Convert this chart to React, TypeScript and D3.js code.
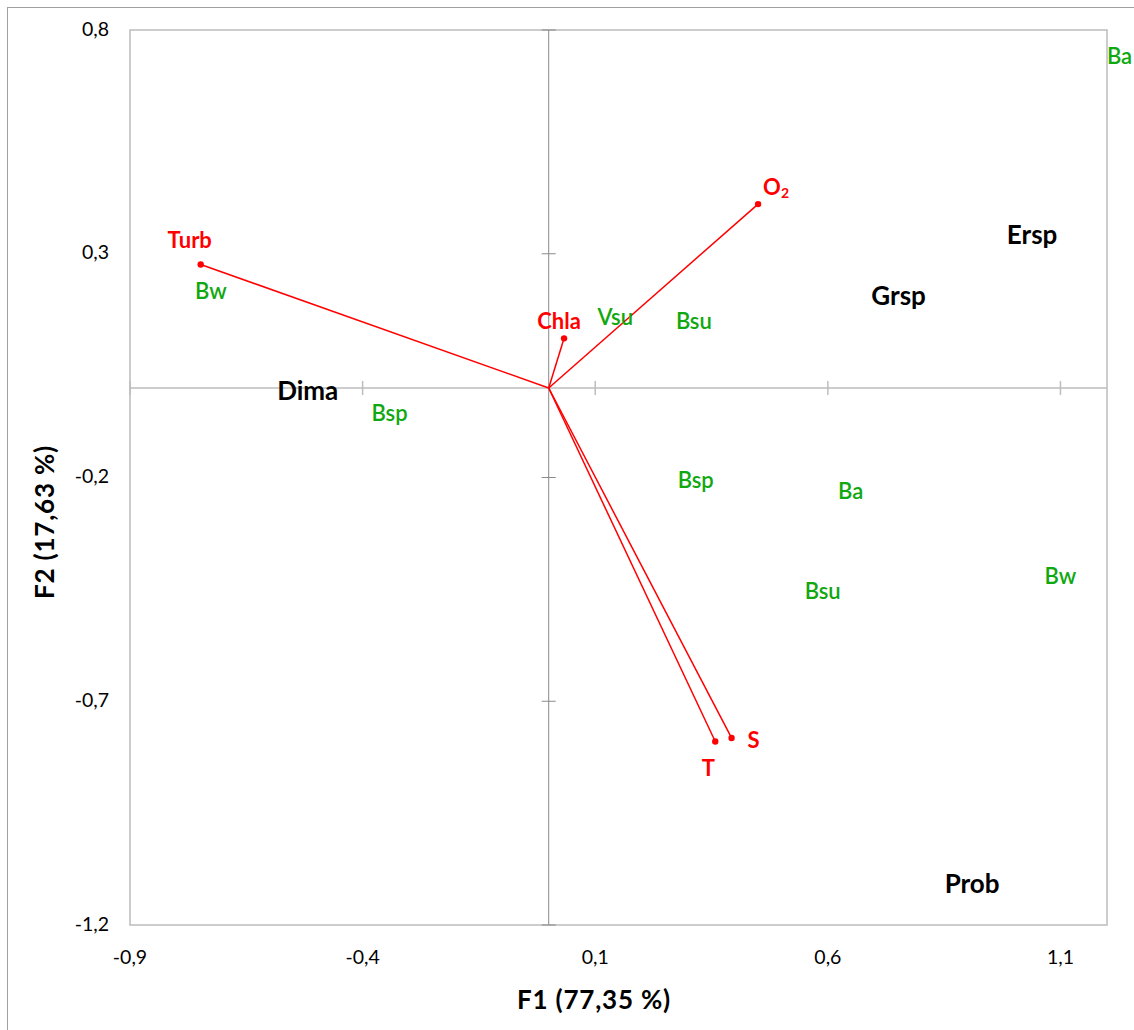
import React from "react";
import * as d3 from "d3";

const xTicks = [-0.9, -0.4, 0.1, 0.6, 1.1];
const yTicks = [0.8, 0.3, -0.2, -0.7, -1.2];

// variables (red vectors)
const varNames = ["Turb", "Chla", "O2", "T", "S"];
const varX = [-0.748, 0.033, 0.45, 0.358, 0.393];
const varY = [0.276, 0.111, 0.411, -0.79, -0.782];
// label offsets in px (dx, dy)
const varLabelDx = [-11, -5, 18, -7, 22];
const varLabelDy = [-25, -18, -18, 26, 2];

// observations (green)
const obsNames = ["Ba", "Bw", "Vsu", "Bsu", "Bsp", "Bsp", "Ba", "Bsu", "Bw"];
const obsX = [1.227, -0.726, 0.143, 0.312, -0.342, 0.316, 0.649, 0.589, 1.1];
const obsY = [0.738, 0.214, 0.155, 0.146, -0.06, -0.208, -0.234, -0.456, -0.423];

// groups (black)
const grpNames = ["Ersp", "Grsp", "Dima", "Prob"];
const grpX = [1.039, 0.752, -0.518, 0.91];
const grpY = [0.339, 0.203, -0.01, -1.11];

const FONT = "Lato, 'Open Sans', sans-serif";
const fmt = (v: number) => d3.format(".1f")(v).replace(".", ",").replace("−", "-");

export default function App() {
  const W = 1134, H = 1030;
  const x = d3.scaleLinear().domain([-0.9, 1.2]).range([130, 1107]);
  const y = d3.scaleLinear().domain([-1.2, 0.8]).range([925, 30]);
  const x0 = x(0), y0 = y(0);
  const red = "#ff0000";
  const green = "#10a810";
  const lift = -2;

  return (
    <svg width={W} height={H} style={{ position: "absolute", left: 0, top: 0 }} fontFamily={FONT}>
      <rect x={0} y={0} width={W} height={H} fill="#fff" />
      <rect x={7.5} y={7.5} width={W + 20} height={H + 20} fill="none" stroke="#a0a0a0" strokeWidth={1} />
      {/* plot border */}
      <rect x={x(-0.9)} y={y(0.8)} width={x(1.2) - x(-0.9)} height={y(-1.2) - y(0.8)} fill="none" stroke="#bcbcbc" strokeWidth={1.5} />
      {/* axes through origin */}
      <line x1={x(-0.9)} x2={x(1.2)} y1={y0} y2={y0} stroke="#bdbdbd" strokeWidth={1.5} />
      <line x1={x0} x2={x0} y1={y(0.8)} y2={y(-1.2)} stroke="#8a8a8a" strokeWidth={1} />
      {xTicks.map((t, i) => (
        <line key={"xt" + i} x1={x(t)} x2={x(t)} y1={y0 - 7} y2={y0 + 7} stroke="#bdbdbd" strokeWidth={1.5} />
      ))}
      {yTicks.map((t, i) => (
        <line key={"yt" + i} x1={x0 - 7} x2={x0 + 7} y1={y(t)} y2={y(t)} stroke="#8a8a8a" strokeWidth={1} />
      ))}
      {/* tick labels */}
      {xTicks.map((t, i) => (
        <text key={"xl" + i} x={x(t)} y={956} textAnchor="middle" dominantBaseline="central" fontSize={19.5} fill="#000">{fmt(t)}</text>
      ))}
      {yTicks.map((t, i) => (
        <text key={"yl" + i} x={109} y={y(t) + lift} textAnchor="end" dominantBaseline="central" fontSize={19.5} fill="#000">{fmt(t)}</text>
      ))}
      {/* axis titles */}
      <text x={594} y={999} textAnchor="middle" dominantBaseline="central" fontSize={26} fontWeight="bold" letterSpacing={0.8}>F1 (77,35 %)</text>
      <text transform={`translate(44,522) rotate(-90)`} textAnchor="middle" dominantBaseline="central" fontSize={26} fontWeight="bold" letterSpacing={0.8}>F2 (17,63 %)</text>
      {/* vectors */}
      {varNames.map((n, i) => (
        <g key={"v" + i}>
          <line x1={x0} y1={y0} x2={x(varX[i])} y2={y(varY[i])} stroke={red} strokeWidth={1.5} />
          <circle cx={x(varX[i])} cy={y(varY[i])} r={3.2} fill={red} />
          <text x={x(varX[i]) + varLabelDx[i]} y={y(varY[i]) + varLabelDy[i]} textAnchor="middle" dominantBaseline="central" fontSize={22} fontWeight="bold" fill={red}>
            {n === "O2" ? (<>O<tspan fontSize={14} dy={6}>2</tspan></>) : n}
          </text>
        </g>
      ))}
      {/* observations */}
      {obsNames.map((n, i) => (
        <text key={"o" + i} x={x(obsX[i])} y={y(obsY[i]) + lift} textAnchor="middle" dominantBaseline="central" fontSize={22} fontWeight={600} fill={green}>{n}</text>
      ))}
      {/* groups */}
      {grpNames.map((n, i) => (
        <text key={"g" + i} x={x(grpX[i])} y={y(grpY[i]) + lift} textAnchor="middle" dominantBaseline="central" fontSize={26} fontWeight="bold" fill="#000">{n}</text>
      ))}
    </svg>
  );
}
